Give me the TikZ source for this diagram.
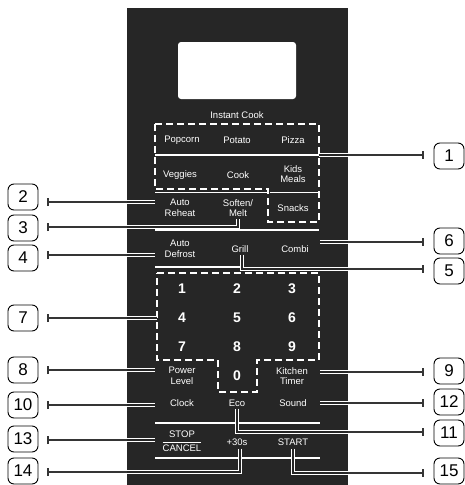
\documentclass[tikz,border=0pt]{standalone}
\usepackage{fontspec}
\setsansfont{Liberation Sans}
\usetikzlibrary{arrows.meta, positioning, calc}
\definecolor{panelbg}{HTML}{262626}
\definecolor{leadc}{HTML}{353535}

\begin{document}
\begin{tikzpicture}[x=1pt, y=-1pt,
    every node/.style={font=\sffamily},
    key/.style={text=white, font=\sffamily\fontsize{9.5}{10.5}\selectfont,
                align=center, inner sep=0pt},
    num/.style={text=white, font=\sffamily\bfseries\fontsize{14}{14}\selectfont, inner sep=0pt},
    tag/.style={rectangle, rounded corners=6pt, draw, line width=0.9pt, minimum width=30pt,
                minimum height=26pt, inner sep=0pt, font=\sffamily\fontsize{17}{17}\selectfont},
    ldr/.style={-{Bar[width=8pt, line width=1.6pt]}, line width=1.8pt, leadc},
    wire/.style={draw=white, double=panelbg, double distance=1.3pt, line width=0.9pt},
    sep/.style={white, line width=1.6pt},
    dashbox/.style={white, line width=2.2pt, dash pattern=on 7pt off 4pt}
]
    \useasboundingbox (0,0) rectangle (465,485);
    \fill[panelbg] (127,8) rectangle (348,485);
    \node[fill=white, rounded corners=3pt, minimum width=118pt, minimum height=57pt] (disp) at (237,70.5) {};

    % key groups
    \draw[dashbox] (155,124) -- (319,124) -- (319,222) -- (268,222) -- (268,189) -- (155,189) -- cycle;
    \draw[dashbox] (157,273) -- (319,273) -- (319,360) -- (257,360) -- (257,392) -- (218,392)
        -- (218,360) -- (157,360) -- cycle;
    \draw[sep] (155,155) -- (319,155);
    \draw[sep] (155,192.5) -- (268,192.5);
    \draw[sep] (270,192.5) -- (319,192.5);
    \draw[sep] (155,230) -- (319,230);
    \draw[sep] (155,267) -- (240,267);
    \draw[sep] (155,423) -- (320,423);
    \draw[sep] (155,458) -- (320,458);

    \node[key] (inst) at (237,115) {Instant Cook};
    \node[key] (popcorn) at (182,140) {Popcorn};
    \node[key] (potato) at (237,140) {Potato};
    \node[key] (pizza) at (293,140) {Pizza};
    \node[key] (veggies) at (180,175) {Veggies};
    \node[key] (cook) at (238,175) {Cook};
    \node[key] (kids) at (293,174) {Kids\\Meals};
    \node[key] (reheat) at (180,208) {Auto\\Reheat};
    \node[key] (melt) at (238,208) {Soften/\\Melt};
    \node[key] (snacks) at (293,208) {Snacks};
    \node[key] (defrost) at (180,249) {Auto\\Defrost};
    \node[key] (grill) at (240,249) {Grill};
    \node[key] (combi) at (295,249) {Combi};

    \node[num] (k1) at (182,289) {1};
    \node[num] (k2) at (237,289) {2};
    \node[num] (k3) at (292,289) {3};
    \node[num] (k4) at (182,318) {4};
    \node[num] (k5) at (237,318) {5};
    \node[num] (k6) at (292,318) {6};
    \node[num] (k7) at (182,347) {7};
    \node[num] (k8) at (237,347) {8};
    \node[num] (k9) at (292,347) {9};
    \node[num] (k0) at (237,376) {0};

    \node[key] (power) at (182,376) {Power\\Level};
    \node[key] (timer) at (292,376) {Kitchen\\Timer};
    \node[key] (clock) at (182,403) {Clock};
    \node[key] (eco) at (237,403) {Eco};
    \node[key] (sound) at (293,403) {Sound};
    \node[key] (stop) at (182,434) {STOP};
    \node[key] (cancel) at (182,448) {CANCEL};
    \draw[white, line width=0.9pt] ([yshift=2pt]cancel.north west) -- ([yshift=2pt]cancel.north east);
    \node[key] (plus) at (237,442) {+30s};
    \node[key] (start) at (293,442) {START};

    % callout numbers
    \node[tag] (n1) at (449,156) {1};
    \node[tag] (n2) at (23,197) {2};
    \node[tag] (n3) at (23,228) {3};
    \node[tag] (n4) at (23,258) {4};
    \node[tag] (n5) at (449,271) {5};
    \node[tag] (n6) at (449,241) {6};
    \node[tag] (n7) at (23,318) {7};
    \node[tag] (n8) at (23,370) {8};
    \node[tag] (n9) at (449,371) {9};
    \node[tag] (n10) at (23,405) {10};
    \node[tag] (n11) at (449,433) {11};
    \node[tag] (n12) at (449,402) {12};
    \node[tag] (n13) at (23,439) {13};
    \node[tag] (n14) at (23,471) {14};
    \node[tag] (n15) at (449,471) {15};

    % panel edge points
    \coordinate (e1) at (348,155);
    \coordinate (e2) at (127,202);
    \coordinate (e3) at (127,227);
    \coordinate (e4) at (127,255);
    \coordinate (e5) at (348,269);
    \coordinate (e6) at (348,242);
    \coordinate (e7) at (127,318);
    \coordinate (e8) at (127,370);
    \coordinate (e9) at (348,372);
    \coordinate (e10) at (127,405);
    \coordinate (e11) at (348,432);
    \coordinate (e12) at (348,403);
    \coordinate (e13) at (127,440);
    \coordinate (e14) at (127,472);
    \coordinate (e15) at (348,473);

    % leaders inside the panel
    \draw[wire] (319,155) -- (e1);
    \draw[wire] (155,202) -- (e2);
    \draw[wire] ([yshift=-2pt]melt.south) |- (e3);
    \draw[wire] (155,255) -- (e4);
    \draw[wire] ([xshift=2pt, yshift=-2pt]grill.south) |- (e5);
    \draw[wire] (320,242) -- (e6);
    \draw[wire] (157,318) -- (e7);
    \draw[wire] (155,370) -- (e8);
    \draw[wire] (320,372) -- (e9);
    \draw[wire] (155,405) -- (e10);
    \draw[wire] ([yshift=-2pt]eco.south) |- (e11);
    \draw[wire] (320,403) -- (e12);
    \draw[wire] (155,440) -- (e13);
    \draw[wire] ([xshift=3pt, yshift=-3pt]plus.south) |- (e14);
    \draw[wire] ([yshift=-3pt]start.south) |- (e15);

    % leaders outside
    \draw[ldr, shorten >=10pt] (e1) -- (e1 -| n1.west);
    \draw[ldr, shorten >=9pt] (e2) -- (e2 -| n2.east);
    \draw[ldr, shorten >=9pt] (e3) -- (e3 -| n3.east);
    \draw[ldr, shorten >=9pt] (e4) -- (e4 -| n4.east);
    \draw[ldr, shorten >=10pt] (e5) -- (e5 -| n5.west);
    \draw[ldr, shorten >=10pt] (e6) -- (e6 -| n6.west);
    \draw[ldr, shorten >=9pt] (e7) -- (e7 -| n7.east);
    \draw[ldr, shorten >=9pt] (e8) -- (e8 -| n8.east);
    \draw[ldr, shorten >=10pt] (e9) -- (e9 -| n9.west);
    \draw[ldr, shorten >=9pt] (e10) -- (e10 -| n10.east);
    \draw[ldr, shorten >=10pt] (e11) -- (e11 -| n11.west);
    \draw[ldr, shorten >=10pt] (e12) -- (e12 -| n12.west);
    \draw[ldr, shorten >=9pt] (e13) -- (e13 -| n13.east);
    \draw[ldr, shorten >=9pt] (e14) -- (e14 -| n14.east);
    \draw[ldr, shorten >=10pt] (e15) -- (e15 -| n15.west);
\end{tikzpicture}
\end{document}
